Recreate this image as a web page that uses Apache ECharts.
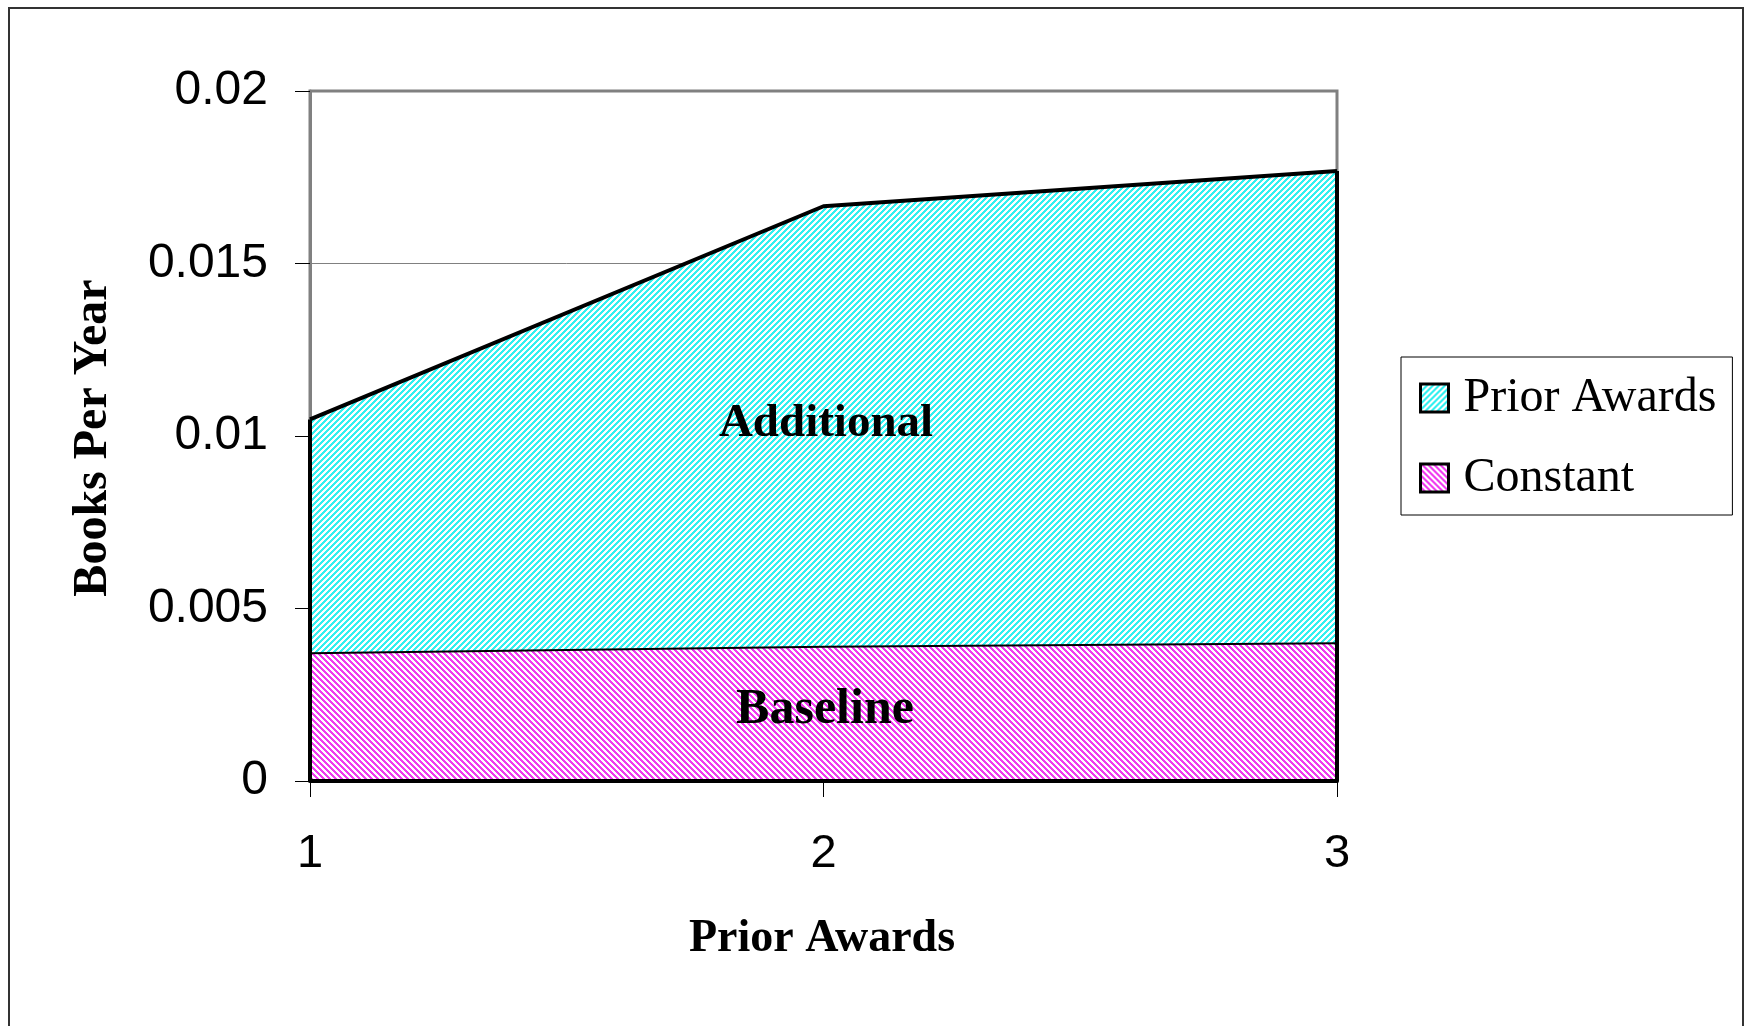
<!DOCTYPE html>
<html>
<head>
<meta charset="utf-8">
<title>Books Per Year by Prior Awards</title>
<script src="https://cdn.jsdelivr.net/npm/echarts@6/dist/echarts.min.js"></script>
<style>
  html, body { margin: 0; padding: 0; background: #ffffff; }
  #chart { width: 1758px; height: 1026px; }
</style>
</head>
<body>
<div id="chart"></div>
<script>
// Number of prior awards (x categories)
const categories = ['1', '2', '3'];
// Baseline rate of books per year
const constantValues = [0.00373, 0.00392, 0.00402];
// Additional books per year attributable to prior awards (stacked on the baseline)
const priorAwardsValues = [0.00675, 0.01274, 0.01366];
// Y axis range
const yMin = 0, yMax = 0.02, yStep = 0.005;

const serif = '"Liberation Serif", "Times New Roman", serif';
const sans = '"Liberation Sans", Arial, sans-serif';

// Diagonal hatch fill drawn pixel by pixel on a small tile
function hatch(color, rising) {
  const size = 6;
  const c = document.createElement('canvas');
  c.width = size; c.height = size;
  const ctx = c.getContext('2d');
  ctx.fillStyle = '#ffffff';
  ctx.fillRect(0, 0, size, size);
  ctx.fillStyle = color;
  for (let x = 0; x < size; x++) {
    for (let y = 0; y < size; y++) {
      const k = rising ? (x + y) : (x - y + size);
      if (k % size < 3) ctx.fillRect(x, y, 1, 1);
    }
  }
  return { image: c, repeat: 'repeat' };
}
const cyanHatch = hatch('#33f0f0', true);
const magentaHatch = hatch('#f03cf0', false);

const totals = constantValues.map((v, i) => v + priorAwardsValues[i]);
const last = categories.length - 1;

const chart = echarts.init(document.getElementById('chart'), null, { renderer: 'canvas' });
chart.setOption({
  animation: false,
  backgroundColor: '#ffffff',
  grid: {
    left: 310, right: 421, top: 91, bottom: 245,
    show: true, borderColor: '#808080', borderWidth: 3, backgroundColor: 'transparent'
  },
  legend: {
    orient: 'vertical',
    left: 1401, top: 357,
    padding: [17, 16, 13, 18],
    itemGap: 32,
    itemWidth: 28, itemHeight: 28,
    borderColor: '#000000', borderWidth: 1,
    backgroundColor: '#ffffff',
    textStyle: { fontFamily: serif, fontSize: 48, color: '#000000', padding: [0, 0, 0, 10] },
    data: [
      { name: 'Prior Awards', icon: 'rect', itemStyle: { color: cyanHatch, borderColor: '#000000', borderWidth: 3 } },
      { name: 'Constant', icon: 'rect', itemStyle: { color: magentaHatch, borderColor: '#000000', borderWidth: 3 } }
    ]
  },
  xAxis: {
    type: 'category',
    data: categories,
    boundaryGap: false,
    z: 10,
    axisLine: { lineStyle: { color: '#000000', width: 4 } },
    axisTick: { show: true, length: 16, lineStyle: { color: '#000000', width: 1 } },
    axisLabel: { fontFamily: sans, fontSize: 47, color: '#000000', margin: 50 },
    splitLine: { show: false }
  },
  yAxis: {
    type: 'value',
    min: yMin, max: yMax, interval: yStep,
    axisLine: { show: true, lineStyle: { color: '#808080', width: 3 } },
    axisTick: { show: true, length: 15, lineStyle: { color: '#000000', width: 1 } },
    axisLabel: { fontFamily: sans, fontSize: 48, color: '#000000', margin: 42 },
    splitLine: { show: true, lineStyle: { color: '#808080', width: 1 } }
  },
  series: [
    {
      name: 'Constant',
      type: 'line',
      stack: 'total',
      data: constantValues,
      showSymbol: false,
      symbol: 'none',
      lineStyle: { color: '#000000', width: 4 },
      itemStyle: { color: magentaHatch },
      areaStyle: { color: magentaHatch, opacity: 1 },
      z: 2
    },
    {
      name: 'Prior Awards',
      type: 'line',
      stack: 'total',
      data: priorAwardsValues,
      showSymbol: false,
      symbol: 'none',
      lineStyle: { color: '#000000', width: 4 },
      itemStyle: { color: cyanHatch },
      areaStyle: { color: cyanHatch, opacity: 1 },
      z: 3,
      markLine: {
        silent: true,
        symbol: 'none',
        label: { show: false },
        lineStyle: { color: '#000000', width: 4, type: 'solid' },
        data: [
          [{ coord: [categories[0], 0] }, { coord: [categories[0], totals[0]] }],
          [{ coord: [categories[last], 0] }, { coord: [categories[last], totals[last]] }]
        ]
      }
    }
  ],
  graphic: [
    {
      type: 'rect', silent: true, z: -10,
      shape: { x: 9, y: 8, width: 1734, height: 1040 },
      style: { fill: 'none', stroke: '#333333', lineWidth: 2 }
    },
    {
      type: 'text', x: 94, y: 438, rotation: Math.PI / 2, z: 20,
      style: { text: 'Books Per Year', font: 'bold 48px ' + serif, fill: '#000000', align: 'center', verticalAlign: 'middle' }
    },
    {
      type: 'text', x: 822, y: 939, z: 20,
      style: { text: 'Prior Awards', font: 'bold 46px ' + serif, fill: '#000000', align: 'center', verticalAlign: 'middle' }
    },
    {
      type: 'text', x: 826, y: 424, z: 20,
      style: { text: 'Additional', font: 'bold 47px ' + serif, fill: '#000000', align: 'center', verticalAlign: 'middle' }
    },
    {
      type: 'text', x: 825, y: 710, z: 20,
      style: { text: 'Baseline', font: 'bold 50px ' + serif, fill: '#000000', align: 'center', verticalAlign: 'middle' }
    }
  ]
});
</script>
</body>
</html>
